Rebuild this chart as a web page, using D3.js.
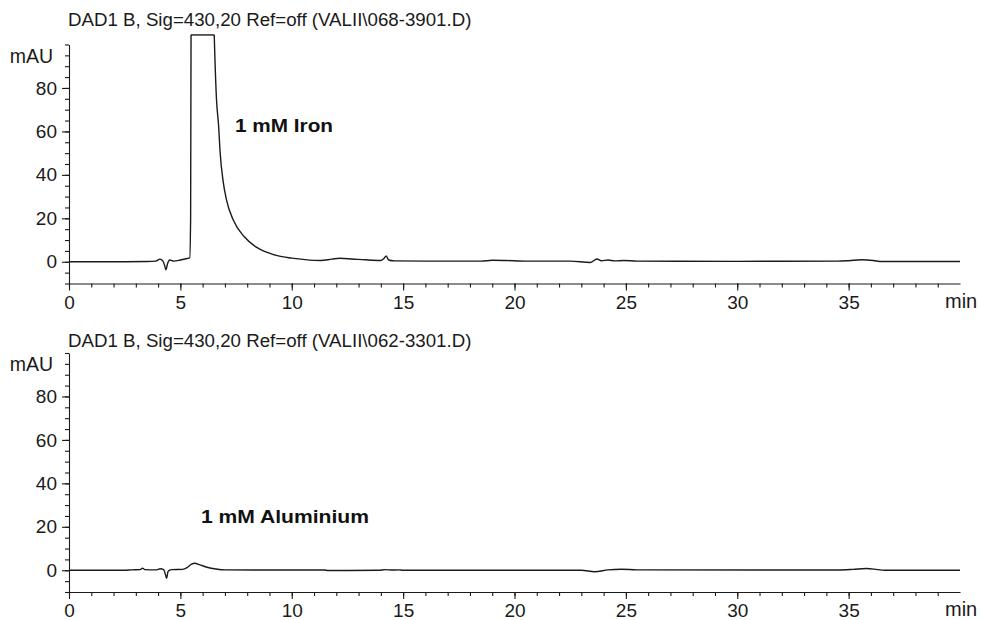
<!DOCTYPE html>
<html>
<head>
<meta charset="utf-8">
<script src="https://cdn.jsdelivr.net/npm/d3@7"></script>
<style>
  body { margin: 0; background: #fff; }
  svg { display: block; font-family: "Liberation Sans", Arial, sans-serif; }
</style>
</head>
<body>
<div id="canvas"></div>
<script>
// chromatogram traces (min, mAU)
const ironTime = [0, 2, 3.5, 3.9, 4.08, 4.22, 4.3, 4.35, 4.42, 4.53, 4.7, 5.0, 5.3, 5.42, 5.46, 5.5, 5.8, 6.2, 6.47, 6.62,
  6.72, 6.78, 6.92, 7.07, 7.37, 7.86, 8.37, 8.9, 9.35, 10.0, 10.6, 11.3, 11.8, 12.15, 12.7, 13.3, 14.0, 14.15, 14.24, 14.35,
  14.6, 16, 18.5, 19.0, 19.6, 20.5, 22.5, 23.4, 23.7, 23.9, 24.2, 24.5, 24.9, 25.5, 30, 34.5, 35.0, 35.6, 36.1, 36.5, 40];
const ironMau = [0, 0, 0.1, 0.3, 1.2, 0.3, -2, -3.7, -1, 0.8, 0.3, 0.8, 1.5, 1.8, 20, 200, 400, 300, 125, 75,
  62, 51, 37, 28.5, 19.3, 11.6, 7, 4.3, 2.8, 1.7, 1.0, 0.6, 1.2, 1.6, 1.3, 0.9, 0.6, 1.6, 2.7, 0.8,
  0.4, 0.3, 0.3, 0.7, 0.6, 0.3, 0.3, -0.3, 1.3, 0.5, 0.8, 0.4, 0.6, 0.3, 0.2, 0.3, 0.5, 0.9, 0.6, 0.1, 0.1];

const aluTime = [0, 2.5, 2.8, 3.2, 3.3, 3.4, 3.9, 4.1, 4.25, 4.33, 4.38, 4.45, 4.6, 5.1, 5.3, 5.5, 5.65, 5.85, 6.2, 6.6,
  7.0, 9, 11.5, 11.6, 13.9, 14.2, 14.5, 14.8, 15, 23, 23.6, 24.2, 24.8, 25.5, 34.5, 35.2, 35.8, 36.3, 36.6, 40];
const aluMau = [0, 0, 0.2, 0.3, 1.0, 0.3, 0.2, 0.7, 0.3, -2, -3.7, -0.5, 0.3, 0.4, 1.2, 2.8, 3.2, 2.6, 1.4, 0.6,
  0.2, 0.1, 0.1, -0.1, 0, 0.3, 0.1, 0.2, 0, 0, -0.7, 0.2, 0.5, 0.2, 0.1, 0.4, 0.8, 0.3, 0, 0];

const titles = ['DAD1 B, Sig=430,20 Ref=off (VALII\\068-3901.D)', 'DAD1 B, Sig=430,20 Ref=off (VALII\\062-3301.D)'];
const labels = ['1 mM Iron', '1 mM Aluminium'];
const xMajor = [0, 5, 10, 15, 20, 25, 30, 35];
const yMajor = [0, 20, 40, 60, 80];

const W = 981, H = 620;
const svg = d3.select('#canvas').append('svg').attr('width', W).attr('height', H);

const x = d3.scaleLinear().domain([0, 40]).range([69, 960]);
const ink = '#1a1a1a';
const yMax = 104.4; // signal is cut here

// panel geometry
const panels = [
  { top: 44.5, titleY: 26, labelX: 235, labelY: 131.5, labelW: 98, time: ironTime, mau: ironMau, title: titles[0], label: labels[0] },
  { top: 353, titleY: 347, labelX: 201, labelY: 523, labelW: 168, time: aluTime, mau: aluMau, title: titles[1], label: labels[1] }
];
const plotH = 239;

panels.forEach((p, i) => {
  const y = d3.scaleLinear().domain([-10, 100]).range([p.top + plotH, p.top]);
  const g = svg.append('g');

  // x axis: minor then major
  const xa = g.append('g').attr('transform', `translate(0,${y(-10)})`);
  xa.call(d3.axisBottom(x).tickValues(d3.range(0, 40, 1)).tickSize(4).tickSizeOuter(0).tickFormat(''));
  xa.append('g').call(d3.axisBottom(x).tickValues(xMajor).tickSize(7).tickPadding(5).tickSizeOuter(0))
    .call(a => a.select('.domain').remove());

  // y axis
  const ya = g.append('g').attr('transform', `translate(${x(0)},0)`);
  ya.call(d3.axisLeft(y).tickValues(d3.range(-10, 101, 5)).tickSize(4).tickSizeOuter(0).tickFormat(''));
  ya.append('g').call(d3.axisLeft(y).tickValues(yMajor).tickSize(7).tickPadding(5).tickSizeOuter(0))
    .call(a => a.select('.domain').remove());

  g.selectAll('.domain, .tick line').attr('stroke', ink).attr('stroke-width', 1.1);
  g.selectAll('.tick text').attr('fill', ink).style('font-size', '19px');

  // texts
  g.append('text').attr('x', 68).attr('y', p.titleY).attr('fill', ink)
    .style('font-size', '18.7px').text(p.title);
  g.append('text').attr('x', 53).attr('y', p.top + 18).attr('text-anchor', 'end').attr('fill', ink)
    .style('font-size', '19.5px').text('mAU');
  g.append('text').attr('x', 945).attr('y', y(-10) + 24).attr('fill', ink)
    .style('font-size', '20px').text('min');
  g.append('text').attr('x', p.labelX).attr('y', p.labelY).attr('fill', '#111')
    .attr('textLength', p.labelW).attr('lengthAdjust', 'spacingAndGlyphs')
    .style('font-size', '18.5px').style('font-weight', 'bold').text(p.label);

  // trace, clipped just above the axis top
  const clipId = 'clip' + i;
  svg.append('clipPath').attr('id', clipId).append('rect')
    .attr('x', x(0)).attr('y', y(yMax)).attr('width', x(40) - x(0)).attr('height', y(-10) - y(yMax));
  const pts = p.time.map((t, k) => [t, p.mau[k]]);
  const line = d3.line().x(d => x(d[0])).y(d => y(d[1])).curve(d3.curveMonotoneX);
  g.append('path').datum(pts)
    .attr('clip-path', `url(#${clipId})`)
    .attr('fill', 'none').attr('stroke', ink).attr('stroke-width', 1.4)
    .attr('d', line);

  // flat cap where the signal runs off scale
  const over = pts.filter(d => d[1] > yMax);
  if (over.length) {
    g.append('path').attr('fill', 'none').attr('stroke', ink).attr('stroke-width', 1.4)
      .attr('d', `M${x(5.47)},${y(yMax)}H${x(6.53)}`);
  }
});
</script>
</body>
</html>
